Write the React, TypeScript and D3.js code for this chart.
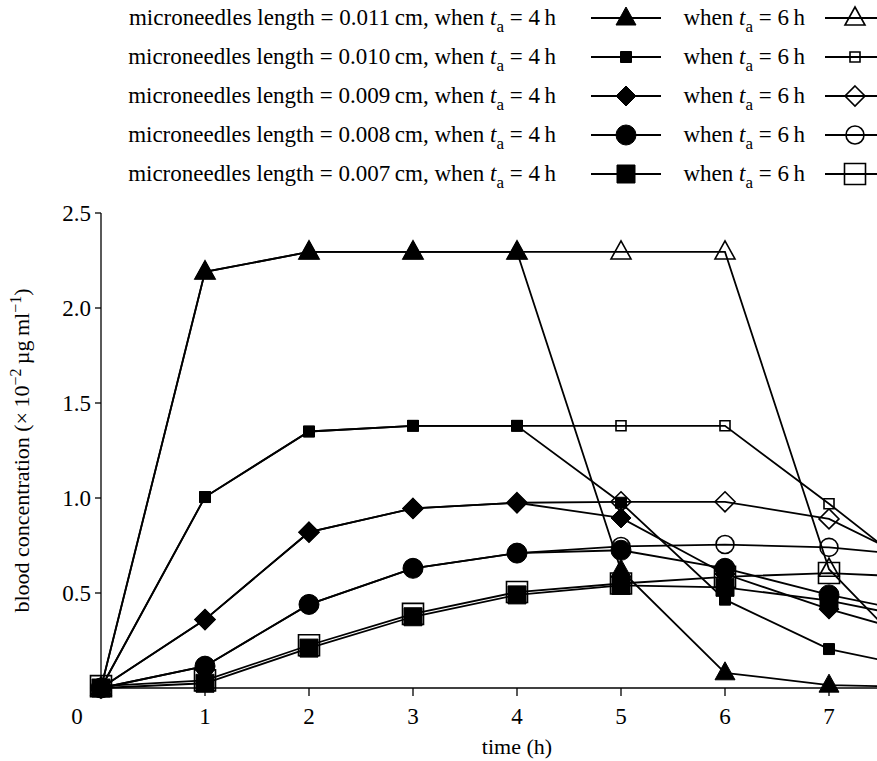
import * as React from 'react';
import {line, scaleLinear} from 'd3';

// time points (h); the last point falls just past the right edge of the picture
const times = [0, 1, 2, 3, 4, 5, 6, 7, 8];
const needleLengths = ['0.011', '0.010', '0.009', '0.008', '0.007'];
const markerKinds = ['triangle', 'smallSquare', 'diamond', 'circle', 'bigSquare'];

// blood concentration (x 10^-2 ug/ml), applied for 4 h
const conc4h = [
    [0, 2.19, 2.295, 2.295, 2.295, 0.62, 0.08, 0.015, 0.005],
    [0, 1.005, 1.35, 1.38, 1.38, 0.975, 0.465, 0.205, 0.09],
    [0, 0.36, 0.82, 0.945, 0.975, 0.895, 0.6, 0.415, 0.26],
    [0, 0.115, 0.44, 0.63, 0.71, 0.725, 0.63, 0.49, 0.38],
    [0, 0.025, 0.21, 0.375, 0.49, 0.54, 0.53, 0.46, 0.35],
];
// applied for 6 h
const conc6h = [
    [0, 2.19, 2.295, 2.295, 2.295, 2.295, 2.295, 0.625, 0.06],
    [0, 1.005, 1.35, 1.38, 1.38, 1.38, 1.38, 0.97, 0.54],
    [0, 0.36, 0.82, 0.945, 0.975, 0.98, 0.98, 0.89, 0.62],
    [0, 0.115, 0.44, 0.63, 0.71, 0.745, 0.755, 0.74, 0.69],
    [0.01, 0.04, 0.225, 0.39, 0.505, 0.55, 0.585, 0.605, 0.58],
];

const xTicks = [1, 2, 3, 4, 5, 6, 7];
const yTicks = [0.5, 1.0, 1.5, 2.0, 2.5];

const width = 877;
const height = 761;
const font = '"Liberation Serif", "Times New Roman", serif';
const fontSize = 23;

const xScale = scaleLinear().domain([0, 8]).range([101, 933]);
const yScale = scaleLinear().domain([0, 2.5]).range([688, 213]);

const markerPath = (kind: string, open: boolean) => {
    if (kind === 'triangle') return 'M0,-11L10,7L-10,7Z';
    if (kind === 'smallSquare') {
        const h = open ? 5 : 5.5;
        return `M${-h},${-h}H${h}V${h}H${-h}Z`;
    }
    if (kind === 'diamond') return 'M0,-10L10,0L0,10L-10,0Z';
    if (kind === 'circle') {
        const r = open ? 9 : 10;
        return `M${r},0A${r},${r} 0 1,1 ${-r},0A${r},${r} 0 1,1 ${r},0Z`;
    }
    const h = open ? 10.5 : 9;
    return `M${-h},${-h}H${h}V${h}H${-h}Z`;
};

const Marker = ({kind, open, x, y}: {kind: string, open: boolean, x: number, y: number}) =>
    <path
        d={markerPath(kind, open)}
        transform={`translate(${x},${y})`}
        fill={open ? 'none' : '#000'}
        stroke="#000"
        strokeWidth={open ? 1.6 : 1}
    />;

const lineGen = line<number>()
    .x((d, i) => xScale(times[i]))
    .y(d => yScale(d));

const Ta = ({h}: {h: number}) =>
    <>
        <tspan fontStyle="italic">t</tspan>
        <tspan fontSize={17} dy={7}>a</tspan>
        <tspan dy={-7}>{` = ${h}\u2009h`}</tspan>
    </>;

export default function App() {
    const legendRows = needleLengths.map((len, i) => {
        const y = 18 + i * 39;
        return (
            <g key={len}>
                <text x={556} y={y + 7} textAnchor="end" fontSize={fontSize}>
                    {`microneedles length = ${len}\u2009cm, when `}<Ta h={4} />
                </text>
                <line x1={591} x2={661} y1={y} y2={y} stroke="#000" strokeWidth={1.8} />
                <Marker kind={markerKinds[i]} open={false} x={626} y={y} />
                <text x={805} y={y + 7} textAnchor="end" fontSize={fontSize}>
                    {'when '}<Ta h={6} />
                </text>
                <line x1={825} x2={885} y1={y} y2={y} stroke="#000" strokeWidth={1.8} />
                <Marker kind={markerKinds[i]} open={true} x={855} y={y} />
            </g>
        );
    });

    return (
        <svg width={width} height={height} style={{position: 'absolute', left: 0, top: 0}}
             fontFamily={font} fill="#000">
            <rect width={width} height={height} fill="#fff" />
            {legendRows}

            {/* axes */}
            <line x1={xScale(0)} x2={xScale(0)} y1={yScale(2.5)} y2={yScale(0)} stroke="#000" strokeWidth={1.3} />
            <line x1={xScale(0)} x2={xScale(8)} y1={yScale(0)} y2={yScale(0)} stroke="#000" strokeWidth={1.3} />
            {yTicks.map(t =>
                <g key={t}>
                    <line x1={xScale(0) - 6} x2={xScale(0)} y1={yScale(t)} y2={yScale(t)} stroke="#000" strokeWidth={1.3} />
                    <text x={xScale(0) - 10} y={yScale(t) + 8} textAnchor="end" fontSize={fontSize}>{t.toFixed(1)}</text>
                </g>
            )}
            {xTicks.map(t =>
                <g key={t}>
                    <line x1={xScale(t)} x2={xScale(t)} y1={yScale(0)} y2={yScale(0) + 8} stroke="#000" strokeWidth={1.3} />
                    <text x={xScale(t)} y={yScale(0) + 36} textAnchor="middle" fontSize={fontSize}>{t}</text>
                </g>
            )}
            <text x={77} y={yScale(0) + 36} textAnchor="middle" fontSize={fontSize}>0</text>
            <text x={xScale(4)} y={754} textAnchor="middle" fontSize={22}>time (h)</text>
            <text transform={`translate(29,${yScale(1.25)}) rotate(-90)`} textAnchor="middle" fontSize={22}>
                {'blood concentration (\u00d7\u200910'}
                <tspan fontSize={16} dy={-8}>{'\u22122'}</tspan>
                <tspan dy={8}>{'\u2009\u00b5g\u2009ml'}</tspan>
                <tspan fontSize={16} dy={-8}>{'\u22121'}</tspan>
                <tspan dy={8}>)</tspan>
            </text>

            {/* series lines */}
            {conc6h.map((s, i) =>
                <path key={'l6' + i} d={lineGen(s) || ''} fill="none" stroke="#000" strokeWidth={1.8} />
            )}
            {conc4h.map((s, i) =>
                <path key={'l4' + i} d={lineGen(s) || ''} fill="none" stroke="#000" strokeWidth={1.8} />
            )}
            {conc6h.map((s, i) => s.map((d, j) =>
                <Marker key={`m6-${i}-${j}`} kind={markerKinds[i]} open={true} x={xScale(times[j])} y={yScale(d)} />
            ))}
            {conc4h.map((s, i) => s.map((d, j) =>
                <Marker key={`m4-${i}-${j}`} kind={markerKinds[i]} open={false} x={xScale(times[j])} y={yScale(d)} />
            ))}
        </svg>
    );
}
